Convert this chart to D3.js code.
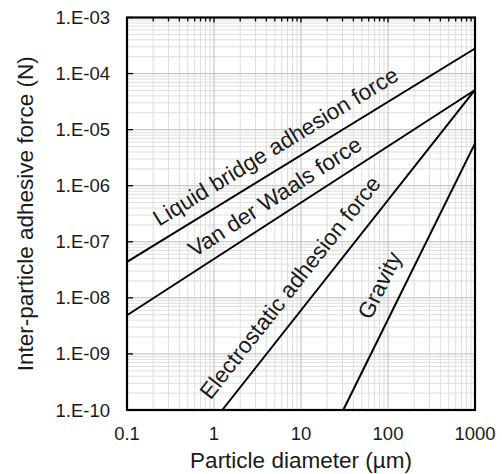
<!DOCTYPE html>
<html><head><meta charset="utf-8">
<script src="https://cdn.jsdelivr.net/npm/d3@7"></script>
<style>body{margin:0;background:#fff}text{font-family:"Liberation Sans",Arial,sans-serif;fill:#1a1a1a}</style>
</head><body><svg id="c" width="502" height="474"></svg>
<script>
// ---- data ----
const xTickValues = [0.1, 1, 10, 100, 1000];
const xTickLabels = ["0.1", "1", "10", "100", "1000"];
const yTickValues = [1e-3, 1e-4, 1e-5, 1e-6, 1e-7, 1e-8, 1e-9, 1e-10];
const yTickLabels = ["1.E-03", "1.E-04", "1.E-05", "1.E-06", "1.E-07", "1.E-08", "1.E-09", "1.E-10"];
const seriesNames = ["Liquid bridge adhesion force", "Van der Waals force", "Electrostatic adhesion force", "Gravity"];
const liquidBridge = [[0.1, 4.4e-8], [1000, 2.8e-4]];
const vanDerWaals = [[0.1, 4.9e-9], [1000, 5.1e-5]];
const electrostatic = [[1.245, 1e-10], [1000, 5.1e-5]];
const gravity = [[30.6, 1e-10], [1000, 5.7e-6]];
const allSeries = [liquidBridge, vanDerWaals, electrostatic, gravity];
const xTitle = "Particle diameter (µm)";
const yTitle = "Inter-particle adhesive force (N)";

// ---- layout ----
const L = 127, T = 17.5, R = 475, B = 410;
const labelAnchorX = [6.8, 6.6, 12, 137];   // where along each line the label sits
const labelOffset = [20.5, 19, 22.5, 22.5];

const svg = d3.select("#c");
const x = d3.scaleLog().domain([0.1, 1000]).range([L, R]);
const y = d3.scaleLog().domain([1e-10, 1e-3]).range([B, T]);

// minor / major values
const minorX = [], minorY = [];
for (let e = -1; e < 3; e++) for (let k = 2; k <= 9; k++) minorX.push(k * Math.pow(10, e));
for (let e = -10; e < -3; e++) for (let k = 2; k <= 9; k++) minorY.push(k * Math.pow(10, e));

const grid = svg.append("g");
grid.selectAll(".mx").data(minorX).join("line")
  .attr("x1", d => x(d)).attr("x2", d => x(d)).attr("y1", T).attr("y2", B)
  .attr("stroke", "#dedede").attr("stroke-width", 1);
grid.selectAll(".my").data(minorY).join("line")
  .attr("y1", d => y(d)).attr("y2", d => y(d)).attr("x1", L).attr("x2", R)
  .attr("stroke", "#dedede").attr("stroke-width", 1);
grid.selectAll(".Mx").data(xTickValues).join("line")
  .attr("x1", d => x(d)).attr("x2", d => x(d)).attr("y1", T).attr("y2", B)
  .attr("stroke", "#bcbcbc").attr("stroke-width", 1);
grid.selectAll(".My").data(yTickValues).join("line")
  .attr("y1", d => y(d)).attr("y2", d => y(d)).attr("x1", L).attr("x2", R)
  .attr("stroke", "#bcbcbc").attr("stroke-width", 1);

// series lines
const line = d3.line().x(d => x(d[0])).y(d => y(d[1]));
svg.append("g").selectAll("path").data(allSeries).join("path")
  .attr("d", line).attr("fill", "none").attr("stroke", "#000").attr("stroke-width", 2);

// labels along lines
allSeries.forEach((s, i) => {
  const [p1, p2] = s;
  const slope = (Math.log10(p2[1]) - Math.log10(p1[1])) / (Math.log10(p2[0]) - Math.log10(p1[0]));
  const ax = labelAnchorX[i];
  const ay = Math.pow(10, Math.log10(p1[1]) + (Math.log10(ax) - Math.log10(p1[0])) * slope);
  const ang = Math.atan2(y(p2[1]) - y(p1[1]), x(p2[0]) - x(p1[0])) * 180 / Math.PI;
  svg.append("text")
    .attr("transform", `translate(${x(ax)},${y(ay)}) rotate(${ang})`)
    .attr("y", -labelOffset[i])
    .attr("dominant-baseline", "central")
    .attr("text-anchor", "middle")
    .attr("font-size", 22.5)
    .text(seriesNames[i]);
});

// top axis ticks (inside)
const ax = svg.append("g");
ax.selectAll(".tmin").data(minorX).join("line")
  .attr("x1", d => x(d)).attr("x2", d => x(d)).attr("y1", T).attr("y2", T + 4)
  .attr("stroke", "#000").attr("stroke-width", 1.3);
ax.selectAll(".tmaj").data(xTickValues).join("line")
  .attr("x1", d => x(d)).attr("x2", d => x(d)).attr("y1", T).attr("y2", T + 5)
  .attr("stroke", "#000").attr("stroke-width", 1.3);
ax.selectAll(".lmaj").data(yTickValues).join("line")
  .attr("y1", d => y(d)).attr("y2", d => y(d)).attr("x1", L).attr("x2", L + 6)
  .attr("stroke", "#000").attr("stroke-width", 1.3);

// frame
svg.append("rect").attr("x", L).attr("y", T).attr("width", R - L).attr("height", B - T)
  .attr("fill", "none").attr("stroke", "#000").attr("stroke-width", 2.2);

// tick labels
svg.append("g").selectAll("text").data(xTickValues).join("text")
  .attr("x", d => x(d)).attr("y", 440).attr("text-anchor", "middle")
  .attr("font-size", 18.5).text((d, i) => xTickLabels[i]);
svg.append("g").selectAll("text").data(yTickValues).join("text")
  .attr("x", 110).attr("y", d => y(d)).attr("text-anchor", "end")
  .attr("dominant-baseline", "central")
  .attr("font-size", 18.5).text((d, i) => yTickLabels[i]);

// titles
svg.append("text").attr("x", (L + R) / 2).attr("y", 468).attr("text-anchor", "middle")
  .attr("font-size", 22.5).text(xTitle);
svg.append("text").attr("transform", `translate(33,${(T + B) / 2}) rotate(-90)`)
  .attr("text-anchor", "middle").attr("font-size", 22.5).text(yTitle);
</script></body></html>
